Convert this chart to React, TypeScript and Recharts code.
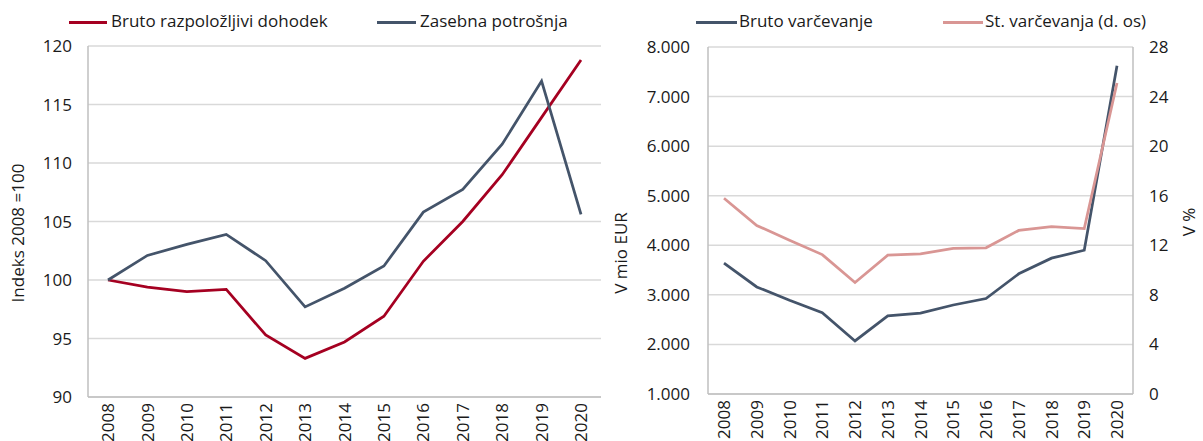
import { CartesianGrid, Legend, Line, LineChart, XAxis, YAxis } from "recharts";

const YEARS = ["2008", "2009", "2010", "2011", "2012", "2013", "2014", "2015", "2016", "2017", "2018", "2019", "2020"];

// levi graf: indeks 2008 = 100
const DOHODEK = [100, 99.4, 99.0, 99.2, 95.3, 93.3, 94.7, 96.9, 101.6, 105.0, 109.0, 113.9, 118.8];
const POTROSNJA = [100, 102.1, 103.05, 103.9, 101.65, 97.7, 99.3, 101.2, 105.8, 107.75, 111.6, 117.0, 105.6];
const INDEX_TICKS = [90, 95, 100, 105, 110, 115, 120];

// desni graf: mio EUR in %
const VARCEVANJE = [3640, 3160, 2890, 2640, 2070, 2575, 2630, 2795, 2925, 3425, 3740, 3900, 7620];
const STOPNJA = [15.8, 13.6, 12.4, 11.25, 9.0, 11.2, 11.3, 11.75, 11.8, 13.2, 13.5, 13.35, 25.1];
const EUR_TICKS = [1000, 2000, 3000, 4000, 5000, 6000, 7000, 8000];
const PCT_TICKS = [0, 4, 8, 12, 16, 20, 24, 28];

const FONT = '"Open Sans", sans-serif';
const TEXT = "#1a1a1a";
const GRID = "#D9D9D9";
const BORDER = "#BFBFBF";
const RED = "#A50021";
const SLATE = "#44546A";
const PINK = "#D99694";

const leftData = YEARS.map((year, i) => ({ year, dohodek: DOHODEK[i], potrosnja: POTROSNJA[i] }));
const rightData = YEARS.map((year, i) => ({ year, varcevanje: VARCEVANJE[i], stopnja: STOPNJA[i] }));

const thousands = (v: number) => String(v).replace(/\B(?=(\d{3})+(?!\d))/g, ".");

const tickStyle = { fontSize: 17, fontFamily: FONT, fill: TEXT };

function YearTick({ x, y, payload }: any) {
  return (
    <g transform={`translate(${x},${y})`}>
      <text transform="rotate(-90)" textAnchor="end" dy="0.36em" fontSize={17} fontFamily={FONT} fill={TEXT}>
        {payload.value}
      </text>
    </g>
  );
}

function AxisTitle({ cx, cy, text }: { cx: number; cy: number; text: string }) {
  return (
    <text
      transform={`translate(${cx},${cy}) rotate(-90)`}
      textAnchor="middle"
      dy="0.36em"
      fontSize={17}
      fontFamily={FONT}
      fill={TEXT}
    >
      {text}
    </text>
  );
}

type Item = { label: string; color: string; x1: number; x2: number; tx: number };

function TopLegend({ items }: { items: Item[] }) {
  return (
    <div style={{ position: "relative", height: 0 }}>
      {items.map((it) => (
        <div key={it.label}>
          <div style={{ position: "absolute", left: it.x1, top: 21, width: it.x2 - it.x1, height: 3, background: it.color }} />
          <div
            style={{
              position: "absolute",
              left: it.tx,
              top: 11,
              lineHeight: "20px",
              fontSize: 17,
              fontFamily: FONT,
              color: TEXT,
              whiteSpace: "nowrap",
            }}
          >
            {it.label}
          </div>
        </div>
      ))}
    </div>
  );
}

function IncomeChart() {
  return (
    <LineChart width={620} height={441} data={leftData} margin={{ top: 46, right: 19, bottom: 0, left: 0 }}>
      <Legend
        verticalAlign="top"
        wrapperStyle={{ top: 0, left: 0, height: 0 }}
        content={() => (
          <TopLegend
            items={[
              { label: "Bruto razpoložljivi dohodek", color: RED, x1: 69, x2: 107, tx: 111 },
              { label: "Zasebna potrošnja", color: SLATE, x1: 377, x2: 416, tx: 420 },
            ]}
          />
        )}
      />
      <CartesianGrid vertical={false} stroke={GRID} strokeWidth={1.5} />
      <XAxis
        dataKey="year"
        height={44}
        padding={{ left: 20, right: 20 }}
        tickLine={false}
        axisLine={{ stroke: BORDER, strokeWidth: 1.5 }}
        tickMargin={0}
        tick={<YearTick />}
        interval={0}
      />
      <YAxis
        domain={[90, 120]}
        ticks={INDEX_TICKS}
        width={88}
        tickLine={false}
        axisLine={{ stroke: BORDER, strokeWidth: 1.5 }}
        tickMargin={10}
        tick={tickStyle}
        label={<AxisTitle cx={18} cy={233} text="Indeks 2008 =100" />}
      />
      <YAxis yAxisId="edge" orientation="right" width={0} tick={false} tickLine={false} axisLine={{ stroke: BORDER, strokeWidth: 1.5 }} />
      <Line dataKey="dohodek" stroke={RED} strokeWidth={2.75} dot={false} isAnimationActive={false} />
      <Line dataKey="potrosnja" stroke={SLATE} strokeWidth={2.75} dot={false} isAnimationActive={false} />
    </LineChart>
  );
}

function SavingsChart() {
  return (
    <LineChart width={603} height={441} data={rightData} margin={{ top: 47, right: 19, bottom: 0, left: 0 }}>
      <Legend
        verticalAlign="top"
        wrapperStyle={{ top: 0, left: 0, height: 0 }}
        content={() => (
          <TopLegend
            items={[
              { label: "Bruto varčevanje", color: SLATE, x1: 96, x2: 137, tx: 139 },
              { label: "St. varčevanja (d. os)", color: PINK, x1: 343, x2: 383, tx: 385 },
            ]}
          />
        )}
      />
      <CartesianGrid vertical={false} yAxisId="l" stroke={GRID} strokeWidth={1.5} />
      <XAxis
        dataKey="year"
        height={47}
        padding={{ left: 16, right: 16 }}
        tickLine={false}
        axisLine={{ stroke: BORDER, strokeWidth: 1.5 }}
        tickMargin={0}
        tick={<YearTick />}
        interval={0}
      />
      <YAxis
        yAxisId="l"
        domain={[1000, 8000]}
        ticks={EUR_TICKS}
        width={108}
        tickLine={false}
        axisLine={{ stroke: BORDER, strokeWidth: 1.5 }}
        tickMargin={12}
        tickFormatter={thousands}
        tick={tickStyle}
        label={<AxisTitle cx={21} cy={253} text="V mio EUR" />}
      />
      <YAxis
        yAxisId="r"
        orientation="right"
        domain={[0, 28]}
        ticks={PCT_TICKS}
        width={51}
        tickLine={false}
        axisLine={{ stroke: BORDER, strokeWidth: 1.5 }}
        tickMargin={10}
        tick={{ ...tickStyle, textAnchor: "start" }}
        label={<AxisTitle cx={589} cy={222} text="V %" />}
      />
      <Line yAxisId="l" dataKey="varcevanje" stroke={SLATE} strokeWidth={2.75} dot={false} isAnimationActive={false} />
      <Line yAxisId="r" dataKey="stopnja" stroke={PINK} strokeWidth={2.75} dot={false} isAnimationActive={false} />
    </LineChart>
  );
}

export default function App() {
  return (
    <div style={{ position: "absolute", top: 0, left: 0, width: 1203, height: 441, background: "#fff" }}>
      <div style={{ position: "absolute", top: 0, left: 0 }}>
        <IncomeChart />
      </div>
      <div style={{ position: "absolute", top: 0, left: 600 }}>
        <SavingsChart />
      </div>
    </div>
  );
}
